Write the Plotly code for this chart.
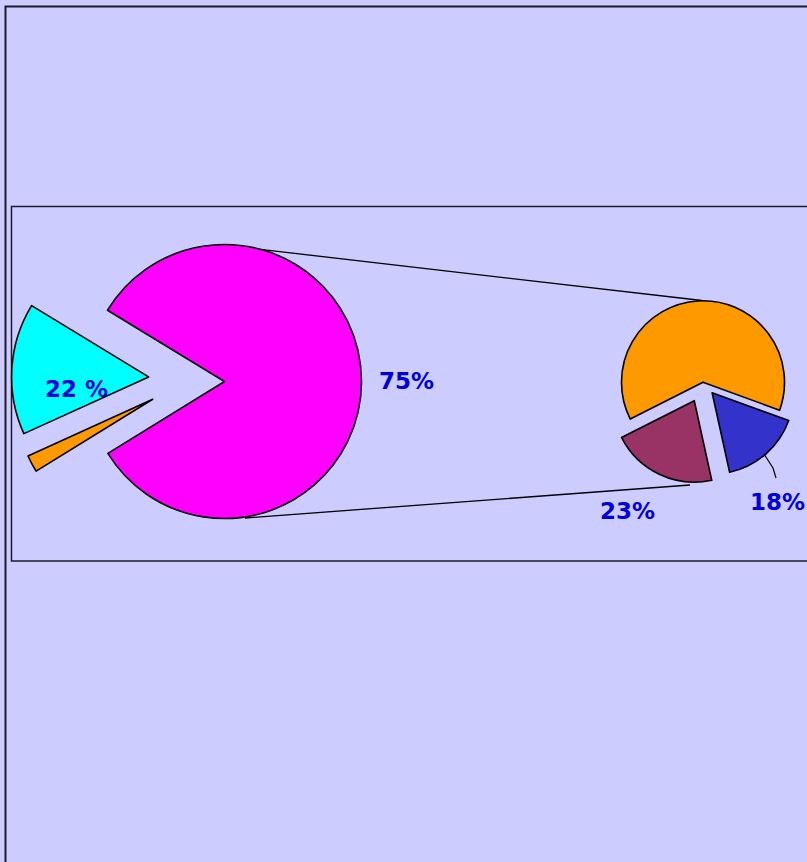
import plotly.graph_objects as go

W, H = 807, 862

# ---- data ----
main_labels = ["Part A", "Part C", "Part B"]
main_values = [82.5, 2.0, 15.5]          # slice sizes as drawn
main_colors = ["#FF00FF", "#FF9900", "#00FFFF"]
main_text = ["75%", "", "22 %"]

sub_labels = ["Other", "Part E", "Part D"]
sub_values = [63, 16, 21]
sub_colors = ["#FF9900", "#3333CC", "#993366"]
sub_text = ["", "18%", "23%"]

# ---- layout geometry (pixels) ----
L_CX, L_CY, L_R = 224.5, 381.5, 137
L_PULL = [0, 0, 0.555]
L_ROT = -58.65
SLIVER_CX, SLIVER_CY = 152.7, 399.3      # offset centre of the detached small slice
R_CX, R_CY, R_R = 703, 382.3, 81.5
R_PULL = [0, 0.17, 0.25]
R_ROT = -116.8
LW = 1.6


def px(x):
    return x / W


def py(y):
    return 1 - y / H


def domain(cx, cy, r, pulls):
    half = r * (1 + max(pulls))
    x0, x1 = max(0, px(cx - half)), min(1, px(cx + half))
    y0, y1 = max(0, py(cy + half)), min(1, py(cy - half))
    return dict(x=[x0, x1], y=[y0, y1])


fig = go.Figure()
# main pie (the small slice is drawn by the detached trace below)
fig.add_trace(go.Pie(
    labels=main_labels, values=main_values, sort=False,
    direction="clockwise", rotation=L_ROT,
    pull=L_PULL, textinfo="none", hoverinfo="label+value",
    marker=dict(colors=[main_colors[0], "rgba(0,0,0,0)", main_colors[2]],
                line=dict(color="#000000", width=[LW, 0, LW])),
    domain=domain(L_CX, L_CY, L_R, L_PULL), showlegend=False,
))
# detached small slice
sliver_start = L_ROT + 360 * main_values[0] / sum(main_values)
fig.add_trace(go.Pie(
    labels=[main_labels[1], "rest"],
    values=[main_values[1], sum(main_values) - main_values[1]], sort=False,
    direction="clockwise", rotation=sliver_start - 360 if sliver_start > 360 else sliver_start,
    textinfo="none", hoverinfo="skip",
    marker=dict(colors=[main_colors[1], "rgba(0,0,0,0)"],
                line=dict(color="#000000", width=[LW, 0])),
    domain=domain(SLIVER_CX, SLIVER_CY, L_R, [0]), showlegend=False,
))
fig.add_trace(go.Pie(
    labels=sub_labels, values=sub_values, sort=False,
    direction="clockwise", rotation=R_ROT,
    pull=R_PULL, textinfo="none", hoverinfo="label+value",
    marker=dict(colors=sub_colors, line=dict(color="#000000", width=LW)),
    domain=domain(R_CX, R_CY, R_R, R_PULL), showlegend=False,
))

border = dict(color="#1c1c2e", width=2)
shapes = [
    dict(type="rect", xref="paper", yref="paper", x0=px(5.5), y0=-0.05,
         x1=1.05, y1=py(6.5), line=border, layer="below"),
    dict(type="rect", xref="paper", yref="paper", x0=px(11.5), y0=py(561),
         x1=1.05, y1=py(206.5), line=dict(color="#1c1c2e", width=1.5), layer="below"),
    dict(type="line", xref="paper", yref="paper", x0=px(218), y0=py(244.5),
         x1=px(702), y1=py(300.5), line=dict(color="#000000", width=1.3), layer="below"),
    dict(type="line", xref="paper", yref="paper", x0=px(245), y0=py(518),
         x1=px(690), y1=py(485), line=dict(color="#000000", width=1.3), layer="below"),
    dict(type="path", xref="paper", yref="paper",
         path=f"M {px(764)} {py(454)} L {px(773)} {py(468)} L {px(776)} {py(478)}",
         line=dict(color="#000000", width=1.2), layer="above"),
]

font = dict(family="Arial Black, DejaVu Sans", size=23, color="#0000DD")
label_pos = {
    "75%": (406, 381),
    "22 %": (76, 389),
    "23%": (627, 511),
    "18%": (777, 502),
}
annotations = []
for t in main_text + sub_text:
    if not t:
        continue
    x, y = label_pos[t]
    annotations.append(dict(text=f"<b>{t}</b>", x=px(x), y=py(y), xref="paper",
                            yref="paper", showarrow=False, font=font,
                            xanchor="center", yanchor="middle"))

fig.update_layout(
    width=W, height=H, margin=dict(l=0, r=0, t=0, b=0),
    paper_bgcolor="#CCCCFF", plot_bgcolor="#CCCCFF",
    shapes=shapes, annotations=annotations,
)
fig.write_html(
    "out.html",
    config={"displayModeBar": False},
    post_script="document.body.style.margin='0';document.body.style.background='#CCCCFF';",
)
